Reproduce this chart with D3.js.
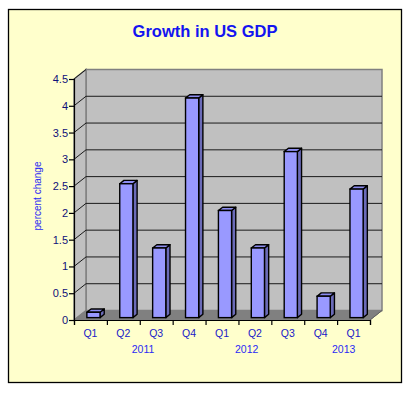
<!DOCTYPE html>
<html>
<head>
<meta charset="utf-8">
<script src="https://cdn.jsdelivr.net/npm/d3@7"></script>
<style>
  html, body { margin: 0; padding: 0; background: #ffffff; }
  svg { display: block; font-family: "Liberation Sans", Arial, sans-serif; }
</style>
</head>
<body>
<svg id="chart"></svg>
<script>
const width = 414;
const height = 394;

const quarters = ["Q1", "Q2", "Q3", "Q4", "Q1", "Q2", "Q3", "Q4", "Q1"];
const growth = [0.1, 2.5, 1.3, 4.1, 2.0, 1.3, 3.1, 0.4, 2.4];
const years = ["2011", "2012", "2013"];
const yearAt = [2.1, 5.25, 8.2];   // where each year label sits, in quarter units
const yTicks = [0, 0.5, 1, 1.5, 2, 2.5, 3, 3.5, 4, 4.5];

const svg = d3.select("#chart")
    .attr("width", width)
    .attr("height", height);

// outer frame
svg.append("rect")
    .attr("x", 8.5).attr("y", 9.5)
    .attr("width", 393).attr("height", 373)
    .attr("fill", "#ffffcc")
    .attr("stroke", "#000").attr("stroke-width", 1.3);

svg.append("text")
    .attr("x", 205).attr("y", 37)
    .attr("text-anchor", "middle")
    .style("font-size", "16.5px")
    .style("font-weight", "bold")
    .style("fill", "#1414f0")
    .text("Growth in US GDP");

const x = d3.scaleBand()
    .domain(d3.range(quarters.length))
    .range([74, 370])
    .paddingInner(0);

const xPos = d3.scaleLinear()
    .domain([0, quarters.length])
    .range([74, 370]);

const y = d3.scaleLinear()
    .domain([0, 4.5])
    .range([320, 79]);

// 3d depth offset
const dx = 12, dy = 9.5;
const x0 = x.range()[0], x1 = x.range()[1];
const yb = y(0), yt = y(4.5);

const pts = a => a.map(p => p.join(",")).join(" ");

// back wall
svg.append("polygon")
    .attr("points", pts([[x0 + dx, yt - dy], [x1 + dx, yt - dy], [x1 + dx, yb - dy], [x0 + dx, yb - dy]]))
    .attr("fill", "#c0c0c0").attr("stroke", "#808080").attr("stroke-width", 1.5);

// left wall
svg.append("polygon")
    .attr("points", pts([[x0, yb], [x0, yt], [x0 + dx, yt - dy], [x0 + dx, yb - dy]]))
    .attr("fill", "#c0c0c0").attr("stroke", "#808080").attr("stroke-width", 1.5);

// floor
svg.append("polygon")
    .attr("points", pts([[x0, yb], [x1, yb], [x1 + dx, yb - dy], [x0 + dx, yb - dy]]))
    .attr("fill", "#808080").attr("stroke", "#808080").attr("stroke-width", 1);

// gridlines
const grid = svg.append("g");
yTicks.filter(v => v > 0 && v < 4.5).forEach(v => {
    grid.append("line")
        .attr("x1", x0 + dx).attr("x2", x1 + dx)
        .attr("y1", y(v) - dy).attr("y2", y(v) - dy)
        .attr("stroke", "#1a1a1a").attr("stroke-width", 1);
});
yTicks.filter(v => v > 0).forEach(v => {
    grid.append("line")
        .attr("x1", x0).attr("x2", x0 + dx)
        .attr("y1", y(v)).attr("y2", y(v) - dy)
        .attr("stroke", "#1a1a1a").attr("stroke-width", 1);
});

// bars
const bw = x.bandwidth() * 0.4;
const f0 = 0.25, f1 = 0.6;   // bar front / back depth fraction
const bars = svg.append("g")
    .selectAll("g")
    .data(growth)
    .join("g");

bars.each(function(d, i) {
    const g = d3.select(this);
    const left = x(i) + (x.bandwidth() - bw) / 2 + dx * f0;
    const right = left + bw;
    const base = y(0) - dy * f0;
    const top = y(d) - dy * f0;
    const ox = dx * (f1 - f0), oy = dy * (f1 - f0);
    g.append("polygon")
        .attr("points", pts([[right, base], [right, top], [right + ox, top - oy], [right + ox, base - oy]]))
        .attr("fill", "#6b6bb8").attr("stroke", "#000").attr("stroke-width", 1.4)
        .attr("stroke-linejoin", "round");
    g.append("polygon")
        .attr("points", pts([[left, top], [right, top], [right + ox, top - oy], [left + ox, top - oy]]))
        .attr("fill", "#8c8cf0").attr("stroke", "#000").attr("stroke-width", 1.4)
        .attr("stroke-linejoin", "round");
    g.append("rect")
        .attr("x", left).attr("y", top)
        .attr("width", bw).attr("height", base - top)
        .attr("fill", "#9999ff").attr("stroke", "#000").attr("stroke-width", 1.4);
});

// right floor edge
svg.append("line")
    .attr("x1", x1).attr("y1", yb).attr("x2", x1 + dx).attr("y2", yb - dy)
    .attr("stroke", "#606060").attr("stroke-width", 1);

// y axis
const yAxis = svg.append("g")
    .attr("transform", `translate(${x0},0)`)
    .call(d3.axisLeft(y).tickValues(yTicks).tickSize(5).tickFormat(d3.format("")));
yAxis.select(".domain").attr("stroke", "#000").attr("stroke-width", 1.2);
yAxis.selectAll(".tick line").attr("stroke", "#000").attr("stroke-width", 1.2);
yAxis.selectAll(".tick text")
    .attr("x", -6)
    .style("font-size", "11px")
    .style("font-family", "'Liberation Sans', Arial, sans-serif")
    .style("fill", "#10107a");

// x axis
const xAxis = svg.append("g")
    .attr("transform", `translate(0,${yb})`)
    .call(d3.axisBottom(xPos).tickValues(d3.range(quarters.length + 1)).tickSize(5).tickFormat(""));
xAxis.select(".domain").attr("stroke", "#000").attr("stroke-width", 1.2);
xAxis.selectAll(".tick line").attr("stroke", "#000").attr("stroke-width", 1.2);

svg.append("g")
    .selectAll("text")
    .data(quarters)
    .join("text")
    .attr("x", (d, i) => x(i) + x.bandwidth() / 2)
    .attr("y", 337)
    .attr("text-anchor", "middle")
    .style("font-size", "10.5px")
    .style("fill", "#2020c8")
    .text(d => d);

svg.append("g")
    .selectAll("text")
    .data(years)
    .join("text")
    .attr("x", (d, i) => xPos(yearAt[i]))
    .attr("y", 353)
    .attr("text-anchor", "middle")
    .style("font-size", "10.5px")
    .style("fill", "#2a2af5")
    .text(d => d);

svg.append("text")
    .attr("transform", "translate(41,196) rotate(-90)")
    .attr("text-anchor", "middle")
    .style("font-size", "10px")
    .style("fill", "#2a2af5")
    .text("percent change");
</script>
</body>
</html>
